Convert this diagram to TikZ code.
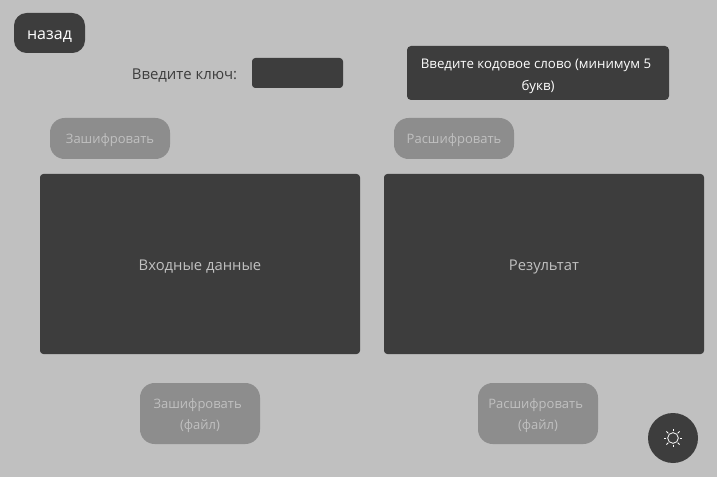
\documentclass[tikz,border=0pt]{standalone}
\usepackage{fontspec}
\usetikzlibrary{calc}
\setmainfont{Open Sans}
\definecolor{pagebg}{HTML}{C0C0C0}
\definecolor{panel}{HTML}{3D3D3D}
\definecolor{faded}{HTML}{8D8D8D}
\tikzset{
    box/.style={fill=panel,inner sep=0pt,align=center},
    darkbtn/.style={box,text=white,rounded corners=9.5pt},
    fadedbtn/.style={fill=faded,text=pagebg,inner sep=0pt,align=center,rounded corners=11pt,font=\fontsize{9.75}{15.7}\selectfont},
    panelbox/.style={box,text=pagebg,rounded corners=2.5pt,minimum width=240pt,minimum height=135pt,text height=12pt,text depth=2pt,font=\fontsize{11.1}{14}\selectfont},
}
\begin{document}
\begin{tikzpicture}[x=0.75pt,y=-0.75pt]
    \fill[pagebg] (0,0) rectangle (717,477);
    \useasboundingbox (0,0) rectangle (717,477);
    \node[darkbtn,minimum width=53.25pt,minimum height=30pt,text height=12.5pt,text depth=2pt,font=\fontsize{12}{14}\selectfont] (back) at (49.5,33) {назад};
    \node[text=panel,font=\fontsize{11.2}{14}\selectfont] (keylabel) at (184.5,75.5) {Введите ключ:};
    \node[box,rounded corners=2.5pt,minimum width=68.25pt,minimum height=22.5pt] (keyinput) at (297.5,73) {};
    \node[box,text=white,rounded corners=3pt,minimum width=196.5pt,minimum height=40.5pt,text height=28pt,text depth=2pt,font=\fontsize{9.95}{16.2}\selectfont] (codeword) at (538,73) {Введите кодовое слово (минимум 5\kern3pt\\букв)};
    \node[fadedbtn,minimum width=90pt,minimum height=30.75pt,text height=10pt,text depth=2pt] (encrypt) at (110,138.5) {Зашифровать};
    \node[fadedbtn,minimum width=90pt,minimum height=30.75pt,text height=10pt,text depth=2pt] (decrypt) at (454,138.5) {Расшифровать};
    \node[panelbox] (input) at (200,264) {Входные данные};
    \node[panelbox] (result) at (544,264) {Результат};
    \node[fadedbtn,minimum width=90pt,minimum height=45.75pt,text height=26pt,text depth=2pt] (encryptfile) at (200,413.5) {Зашифровать\kern3.5pt\\(файл)};
    \node[fadedbtn,minimum width=90pt,minimum height=45.75pt,text height=26pt,text depth=2pt] (decryptfile) at (538,413.5) {Расшифровать\kern3.5pt\\(файл)};
    \node[circle,fill=panel,inner sep=0pt,minimum size=37.5pt] (theme) at (673,438) {};
    % sun icon
    \draw[white,line width=0.6pt] (theme) circle (4pt);
    \foreach \a in {0,45,...,315}
        \draw[white,line width=0.6pt] ($(theme)+(\a:5pt)$) -- ($(theme)+(\a:7pt)$);
\end{tikzpicture}
\end{document}
